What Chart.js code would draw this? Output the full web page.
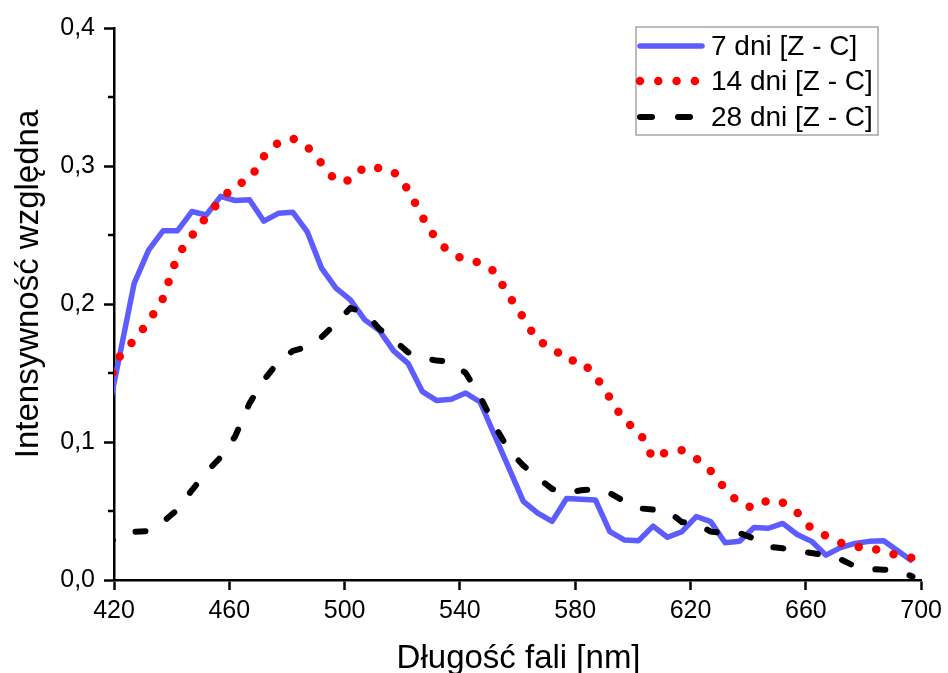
<!DOCTYPE html>
<html>
<head>
<meta charset="utf-8">
<script src="https://cdn.jsdelivr.net/npm/chart.js@4.4.0/dist/chart.umd.min.js"></script>
<style>
  html, body { margin: 0; padding: 0; background: #fff; }
</style>
</head>
<body>
<canvas id="chart" width="948" height="673"></canvas>
<script>
// wavelength of every sample, nm (first one sits just left of the axis and is clipped)
const wavelengths = [417, 422, 427, 432, 437, 442, 447, 452, 457, 462,
  467, 472, 477, 482, 487, 492, 497, 502, 507, 512,
  517, 522, 527, 532, 537, 542, 547, 552, 557, 562,
  567, 572, 577, 582, 587, 592, 597, 602, 607, 612,
  617, 622, 627, 632, 637, 642, 647, 652, 657, 662,
  667, 672, 677, 682, 687, 692, 697]

const days7 = [0.112, 0.163, 0.215, 0.239, 0.253, 0.253, 0.267, 0.2645, 0.278, 0.275,
  0.2755, 0.26, 0.2657, 0.2665, 0.2525, 0.226, 0.2115, 0.203, 0.1885, 0.181,
  0.166, 0.157, 0.1365, 0.130, 0.131, 0.1355, 0.129, 0.105, 0.081, 0.057,
  0.0485, 0.0425, 0.059, 0.0585, 0.058, 0.035, 0.029, 0.0285, 0.039, 0.031,
  0.035, 0.046, 0.0423, 0.027, 0.028, 0.038, 0.0375, 0.041, 0.033, 0.028,
  0.018, 0.0235, 0.0265, 0.028, 0.0285, 0.021, 0.0135]

const days14 = [0.138, 0.162, 0.174, 0.187, 0.204, 0.235, 0.2495, 0.263, 0.2755, 0.286,
  0.290, 0.307, 0.317, 0.320, 0.314, 0.302, 0.289, 0.2897, 0.2995, 0.2985,
  0.296, 0.283, 0.263, 0.246, 0.2365, 0.232, 0.230, 0.2235, 0.206, 0.190,
  0.173, 0.169, 0.159, 0.159, 0.148, 0.132, 0.115, 0.1085, 0.088, 0.093,
  0.094, 0.088, 0.079, 0.066, 0.0555, 0.052, 0.058, 0.056, 0.049, 0.037,
  0.032, 0.027, 0.024, 0.024, 0.020, 0.018, 0.016]

const days28 = [0.024, 0.033, 0.035, 0.0355, 0.042, 0.051, 0.065, 0.078, 0.089, 0.104,
  0.128, 0.145, 0.158, 0.166, 0.169, 0.176, 0.186, 0.197, 0.194, 0.182,
  0.174, 0.165, 0.161, 0.159, 0.158, 0.150, 0.133, 0.112, 0.094, 0.083,
  0.074, 0.066, 0.063, 0.065, 0.066, 0.063, 0.057, 0.052, 0.051, 0.050,
  0.042, 0.041, 0.035, 0.034, 0.034, 0.030, 0.024, 0.023, 0.021, 0.0195,
  0.018, 0.015, 0.010, 0.008, 0.0075, 0.0065, 0.0025]

const seriesNames = ['7 dni [Z - C]', '14 dni [Z - C]', '28 dni [Z - C]']
const yMinorTicks = [0.05, 0.15, 0.25, 0.35]
const xTitle = 'Długość fali [nm]'
const yTitle = 'Intensywność względna'

const FONT = '"Liberation Sans", Arial, sans-serif'

function points(values) {
  return values.map(function(v, i) {
    return { x: wavelengths[i], y: v }
  })
}

// minor ticks, axis titles and the framed legend
const extras = {
  id: 'extras',
  afterDraw(chart) {
    const ctx = chart.ctx
    const area = chart.chartArea
    const yScale = chart.scales.y
    ctx.save()

    ctx.strokeStyle = '#000'
    ctx.lineWidth = 2.5
    yMinorTicks.forEach(function(v) {
      const py = yScale.getPixelForValue(v)
      ctx.beginPath()
      ctx.moveTo(area.left - 6, py)
      ctx.lineTo(area.left, py)
      ctx.stroke()
    })

    ctx.fillStyle = '#000'
    ctx.font = '33px ' + FONT
    ctx.textAlign = 'center'
    ctx.textBaseline = 'alphabetic'
    ctx.fillText(xTitle, (area.left + area.right) / 2 + 1, 668)
    ctx.save()
    ctx.translate(38, 284)
    ctx.rotate(-Math.PI / 2)
    ctx.fillText(yTitle, 0, 0)
    ctx.restore()

    // legend
    ctx.strokeStyle = '#999'
    ctx.lineWidth = 1.3
    ctx.strokeRect(636, 27, 242, 108)
    const rows = [46, 81, 117]
    chart.data.datasets.forEach(function(ds, i) {
      const ly = rows[i]
      ctx.save()
      ctx.strokeStyle = ds.borderColor
      ctx.lineWidth = ds.borderWidth
      ctx.lineCap = 'round'
      ctx.beginPath()
      if (i === 0) {
        ctx.moveTo(640, ly); ctx.lineTo(702, ly)
      } else if (i === 1) {
        ctx.setLineDash([0, 18.3])
        ctx.moveTo(640, ly); ctx.lineTo(700, ly)
      } else {
        ctx.setLineDash([12, 26])
        ctx.moveTo(640, ly); ctx.lineTo(700, ly)
      }
      ctx.stroke()
      ctx.restore()
      ctx.fillStyle = '#000'
      ctx.font = '28px ' + FONT
      ctx.textAlign = 'left'
      ctx.textBaseline = 'middle'
      ctx.fillText(ds.label, 711, ly + 1)
    })
    ctx.restore()
  }
}

const ctx = document.getElementById('chart').getContext('2d')
const chart = new Chart(ctx, {
  type: 'line',
  data: {
    datasets: [
      {
        label: seriesNames[0],
        data: points(days7),
        borderColor: '#5c5cff',
        borderWidth: 5.5,
        borderJoinStyle: 'round',
        order: 3
      },
      {
        label: seriesNames[1],
        data: points(days14),
        borderColor: '#ff0000',
        borderWidth: 8.5,
        borderDash: [0, 18],
        borderCapStyle: 'round',
        order: 2
      },
      {
        label: seriesNames[2],
        data: points(days28),
        borderColor: '#000000',
        borderWidth: 6,
        borderDash: [10, 25],
        borderCapStyle: 'round',
        order: 1
      }
    ]
  },
  options: {
    responsive: false,
    animation: false,
    devicePixelRatio: 1,
    layout: { padding: { top: 28, right: 26, left: 0, bottom: 0 } },
    elements: {
      point: { radius: 0, hoverRadius: 0 },
      line: { tension: 0, fill: false }
    },
    datasets: {
      line: { clip: { left: 0, top: 10, right: 10, bottom: 10 } }
    },
    plugins: {
      legend: { display: false },
      tooltip: { enabled: false }
    },
    scales: {
      x: {
        type: 'linear',
        min: 420,
        max: 700,
        afterFit: function(scale) { scale.height = 93 },
        border: { display: true, color: '#000', width: 2.5 },
        grid: { display: true, drawOnChartArea: false, drawTicks: true, tickLength: 10, tickColor: '#000', tickWidth: 2.5 },
        ticks: {
          stepSize: 40,
          padding: 6,
          color: '#000',
          font: { family: FONT, size: 25 },
          maxRotation: 0
        }
      },
      y: {
        min: 0,
        max: 0.4,
        afterFit: function(scale) { scale.width = 114 },
        border: { display: true, color: '#000', width: 2.5 },
        grid: { display: true, drawOnChartArea: false, drawTicks: true, tickLength: 10, tickColor: '#000', tickWidth: 2.5 },
        ticks: {
          stepSize: 0.1,
          padding: 9,
          color: '#000',
          font: { family: FONT, size: 25 },
          callback: function(v) { return v.toFixed(1).replace('.', ',') }
        }
      }
    }
  },
  plugins: [extras]
})
</script>
</body>
</html>
